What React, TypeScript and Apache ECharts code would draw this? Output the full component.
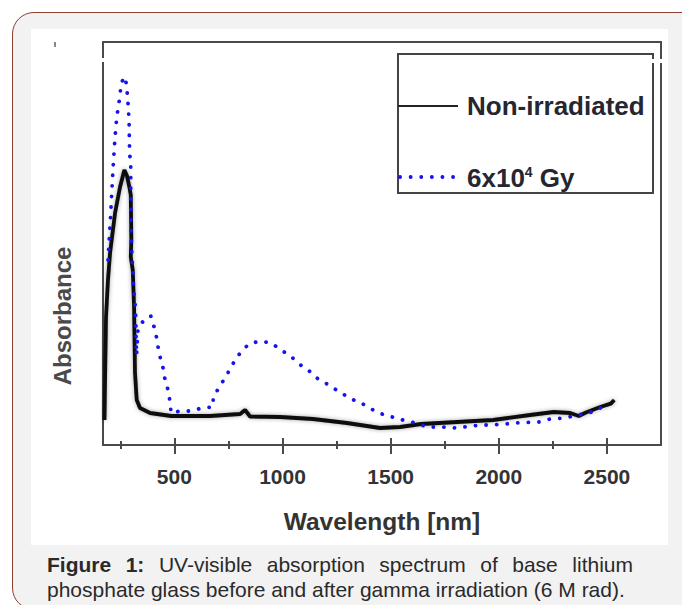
import React, { useEffect, useRef } from "react";
import * as echarts from "echarts";

// ---- data ----
const majorTicks = [500, 1000, 1500, 2000, 2500];
const minorTicks = [250, 750, 1250, 1750, 2250];

const nonIrrWl = [177, 179.5, 184, 193, 202.6, 225.7, 248.8, 268.7, 281.2, 291.9, 298.4, 301, 298.4, 307.6, 313.6, 318, 326, 341, 388, 485, 665, 804, 827, 850, 989, 1141, 1298, 1451, 1544, 1641, 1974, 2145, 2254, 2330, 2370, 2403, 2469, 2518, 2534];
const nonIrrAbs = [0.25, 0.65, 1.28, 1.65, 1.92, 2.32, 2.58, 2.75, 2.69, 2.58, 2.5, 2.05, 1.88, 1.75, 1.38, 0.72, 0.45, 0.37, 0.32, 0.29, 0.29, 0.31, 0.35, 0.285, 0.28, 0.26, 0.22, 0.17, 0.18, 0.21, 0.25, 0.3, 0.33, 0.32, 0.29, 0.325, 0.38, 0.414, 0.45];

const gyWl = [193.3, 199.4, 205.8, 210.4, 217.9, 225.7, 233.6, 241, 248.9, 253.5, 272, 279.8, 284.5, 290.5, 292, 293, 298.3, 298.3, 299.7, 303, 307.6, 312.2, 318.2, 321.5, 322.9, 325.2, 332.1, 359.9, 390.8, 401.5, 415.4, 424.6, 433.9, 447.7, 457, 470.9, 480.1, 484.7, 526.4, 577.2, 628.1, 677.6, 680.4, 708.1, 742.4, 766.9, 803.9, 844.1, 896.4, 947.3, 994.9, 1053.6, 1093.9, 1118.4, 1164.7, 1214.2, 1263.2, 1318.7, 1368.2, 1419.1, 1470, 1525.4, 1571.7, 1618, 1668.8, 1733.6, 1807.6, 1872.3, 1923.2, 1974.1, 2029.6, 2071.2, 2122.1, 2186.9, 2237.7, 2302.5, 2444, 2492.1];
const gyAbs = [1.85, 2.08, 2.32, 2.52, 2.82, 3.08, 3.28, 3.38, 3.5, 3.62, 3.683, 3.583, 3.45, 3.25, 3.05, 2.92, 2.8, 2.45, 2.12, 1.95, 1.72, 1.55, 1.42, 1.27, 1.08, 0.9, 1.17, 1.25, 1.29, 1.22, 1.1, 0.98, 0.88, 0.77, 0.65, 0.55, 0.43, 0.32, 0.34, 0.34, 0.37, 0.38, 0.48, 0.58, 0.7, 0.8, 0.92, 1.01, 1.04, 1.02, 0.95, 0.86, 0.78, 0.75, 0.66, 0.6, 0.53, 0.46, 0.414, 0.35, 0.3, 0.27, 0.24, 0.22, 0.18, 0.18, 0.17, 0.19, 0.2, 0.2, 0.21, 0.22, 0.225, 0.23, 0.26, 0.27, 0.336, 0.4];

const seriesNames = ["Non-irradiated", "6x10⁴ Gy"];
const X_MIN = 170;
const X_MAX = 2750;
const Y_MIN = 0;
const Y_MAX = 4.03;

const FONT = "'Liberation Sans', Arial, Helvetica, sans-serif";
const AXIS_COLOR = "#4a4a4a";

export default function App() {
  const ref = useRef<HTMLDivElement>(null);

  useEffect(() => {
    document.body.style.margin = "0";
    const chart = echarts.init(ref.current!, null, { renderer: "svg" });
    const lineAxis = { show: true, onZero: false, lineStyle: { color: AXIS_COLOR, width: 2 } };
    const baseX = {
      type: "value" as const,
      min: X_MIN,
      max: X_MAX,
      position: "bottom" as const,
      splitLine: { show: false },
    };
    chart.setOption({
      animation: false,
      grid: { left: 103, top: 42, right: 21, bottom: 160, containLabel: false },
      xAxis: [
        {
          ...baseX,
          axisLine: lineAxis,
          axisTick: { show: true, inside: false, length: 9, customValues: majorTicks, lineStyle: { color: AXIS_COLOR, width: 2 } },
          axisLabel: {
            show: true,
            customValues: majorTicks,
            formatter: (v: number) => String(v),
            margin: 21,
            fontFamily: FONT,
            fontWeight: "bold",
            fontSize: 21,
            color: "#333",
          },
          name: "Wavelength [nm]",
          nameLocation: "middle",
          nameGap: 64,
          nameTextStyle: { fontFamily: FONT, fontWeight: "bold", fontSize: 24.5, color: "#333" },
        },
        {
          ...baseX,
          axisLine: { show: false },
          axisTick: { show: true, inside: true, length: 7, customValues: majorTicks, lineStyle: { color: AXIS_COLOR, width: 2 } },
          axisLabel: { show: false },
        },
        {
          ...baseX,
          axisLine: { show: false },
          axisTick: { show: true, inside: false, length: 4, customValues: minorTicks, lineStyle: { color: AXIS_COLOR, width: 2 } },
          axisLabel: { show: false },
        },
        {
          ...baseX,
          axisLine: { show: false },
          axisTick: { show: true, inside: true, length: 4, customValues: minorTicks, lineStyle: { color: AXIS_COLOR, width: 2 } },
          axisLabel: { show: false },
        },
        {
          ...baseX,
          position: "top",
          axisLine: lineAxis,
          axisTick: { show: false },
          axisLabel: { show: false },
        },
      ],
      yAxis: [
        {
          type: "value",
          min: Y_MIN,
          max: Y_MAX,
          position: "left",
          axisLine: lineAxis,
          axisTick: { show: false },
          axisLabel: { show: false },
          splitLine: { show: false },
        },
        {
          type: "value",
          min: Y_MIN,
          max: Y_MAX,
          position: "right",
          axisLine: lineAxis,
          axisTick: { show: false },
          axisLabel: { show: false },
          splitLine: { show: false },
        },
      ],
      series: [
        {
          name: seriesNames[0],
          type: "line",
          xAxisIndex: 0,
          yAxisIndex: 0,
          symbol: "none",
          data: nonIrrWl.map((w, i) => [w, nonIrrAbs[i]]),
          lineStyle: { color: "#0a0a0a", width: 3.8, shadowColor: "rgba(0,0,0,0.35)", shadowBlur: 4 },
          z: 3,
        },
        {
          name: seriesNames[1],
          type: "line",
          xAxisIndex: 0,
          yAxisIndex: 0,
          symbol: "none",
          data: gyWl.map((w, i) => [w, gyAbs[i]]),
          lineStyle: { color: "#1414ee", width: 3.8, type: [0.1, 10.5], cap: "round" },
          z: 4,
        },
      ],
      graphic: [
        // y-axis title
        {
          type: "text",
          x: 62,
          y: 316,
          rotation: Math.PI / 2,
          style: {
            text: "Absorbance",
            fontFamily: FONT,
            fontWeight: "bold",
            fontSize: 24,
            fill: "#4a4a4a",
            align: "center",
            verticalAlign: "middle",
          },
        },
        // scan artefacts: gaps in the frame
        { type: "rect", shape: { x: 100, y: 58, width: 7, height: 4 }, style: { fill: "#fff" }, z: 10 },
        { type: "rect", shape: { x: 650, y: 59, width: 14, height: 4 }, style: { fill: "#fff" }, z: 10 },
        { type: "rect", shape: { x: 54, y: 42, width: 2, height: 5 }, style: { fill: "#888" } },
        // legend box
        {
          type: "rect",
          shape: { x: 398, y: 54, width: 255, height: 139 },
          style: { fill: "none", stroke: "#444", lineWidth: 2 },
          z: 5,
        },
        {
          type: "line",
          shape: { x1: 398, y1: 106, x2: 458, y2: 106 },
          style: { stroke: "#222", lineWidth: 2 },
          z: 5,
        },
        {
          type: "text",
          x: 467,
          y: 106,
          style: {
            text: seriesNames[0],
            fontFamily: FONT,
            fontWeight: "bold",
            fontSize: 26,
            fill: "#262630",
            verticalAlign: "middle",
          },
          z: 5,
        },
        {
          type: "line",
          shape: { x1: 400, y1: 177, x2: 460, y2: 177 },
          style: { stroke: "#1414ee", lineWidth: 3.8, lineDash: [0.1, 10.5], lineCap: "round" },
          z: 5,
        },
        {
          type: "text",
          x: 467,
          y: 178,
          style: {
            text: "{a|6x10}{s|4}{a| Gy}",
            verticalAlign: "middle",
            rich: {
              a: { fontFamily: FONT, fontWeight: "bold", fontSize: 26, fill: "#262630", lineHeight: 30 },
              s: { fontFamily: FONT, fontWeight: "bold", fontSize: 14, fill: "#262630", lineHeight: 30, verticalAlign: "top", padding: [2, 0, 0, 0] },
            },
          },
          z: 5,
        },
      ],
    });
    return () => chart.dispose();
  }, []);

  return (
    <div style={{ position: "relative", width: 682, height: 605, background: "#fff", overflow: "hidden" }}>
      <div
        style={{
          position: "absolute",
          left: 12,
          top: 12,
          width: 700,
          height: 598,
          border: "1.5px solid #8e3f30",
          borderRadius: 22,
          background: "#f2f2f2",
          boxSizing: "border-box",
        }}
      />
      <div style={{ position: "absolute", left: 31, top: 29, width: 637, height: 516, background: "#fff" }} />
      <div ref={ref} style={{ position: "absolute", left: 0, top: 0, width: 682, height: 605 }} />
      <div
        style={{
          position: "absolute",
          left: 47,
          top: 552,
          width: 586,
          fontFamily: FONT,
          fontSize: 21,
          lineHeight: "25px",
          color: "#2a2a2a",
        }}
      >
        <div style={{ textAlign: "justify", textAlignLast: "justify", whiteSpace: "nowrap" as const }}>
          <b>Figure 1:</b> UV-visible absorption spectrum of base lithium
        </div>
        <div style={{ whiteSpace: "nowrap" as const }}>phosphate glass before and after gamma irradiation (6 M rad).</div>
      </div>
    </div>
  );
}
